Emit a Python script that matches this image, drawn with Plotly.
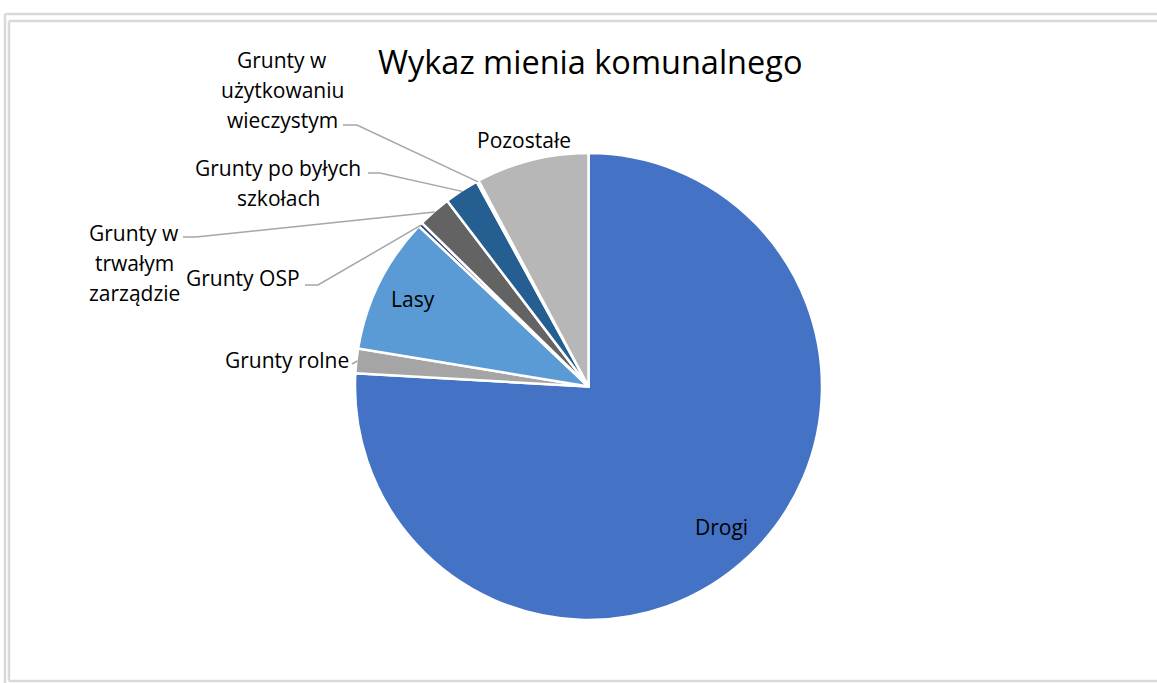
import math
import plotly.graph_objects as go

# ---------------- data ----------------
categories = ["Drogi", "Grunty rolne", "Lasy", "Grunty OSP",
              "Grunty w trwałym zarządzie", "Grunty po byłych szkołach",
              "Grunty w użytkowaniu wieczystym", "Pozostałe"]
values = [75.9, 1.7, 9.45, 0.3, 2.3, 2.4, 0.15, 7.8]
label_lines = [["Drogi"], ["Grunty rolne"], ["Lasy"], ["Grunty OSP"],
               ["Grunty w", "trwałym", "zarządzie"],
               ["Grunty po byłych", "szkołach"],
               ["Grunty w", "użytkowaniu", "wieczystym"],
               ["Pozostałe"]]
colors = ["#4472C4", "#A5A5A5", "#5B9BD5", "#264478",
          "#636363", "#255E91", "#7F9FCF", "#B7B7B7"]

# ---------------- layout geometry (pixels) ----------------
W, H = 1157, 683
CX, CY, R = 588.5, 386.5, 233.5

# label placement: (kind, x, y, anchor) ; kind "in" => fraction of radius along bisector
label_pos = [
    ("in", 0.83, None, "center"),
    ("out", 287, 360, "center"),
    ("in", 0.84, None, "center"),
    ("out", 243, 278, "center"),
    ("out", 134, 233, "center"),
    ("out", 278, 168, "center"),
    ("out", 282, 60, "center"),
    ("out", 524, 140, "center"),
]
# leader: start point (px) + horizontal run end, or None
leaders = [
    None,
    [(352, 364)],
    None,
    [(305, 285), (318, 285)],
    [(183, 237), (196, 237)],
    [(368, 173), (380, 173)],
    [(343, 125), (357, 125)],
    None,
]
LINE_SP = 30.0


def px(x):
    return x / W


def py(y):
    return 1 - y / H


total = sum(values)
angles = []
acc = 0.0
for v in values:
    a0 = acc / total * 360
    acc += v
    a1 = acc / total * 360
    angles.append((a0 + a1) / 2)


def polar(angle_deg, r):
    t = math.radians(angle_deg)
    return CX + r * math.sin(t), CY - r * math.cos(t)


fig = go.Figure(go.Pie(
    labels=categories, values=values, sort=False, direction="clockwise",
    rotation=0, textinfo="none", hoverinfo="label+value",
    marker=dict(colors=colors, line=dict(color="white", width=2.5)),
    domain=dict(x=[px(CX - R), px(CX + R)], y=[py(CY + R), py(CY - R)]),
    showlegend=False,
))

annotations = []
shapes = []
font = dict(family="Open Sans, Noto Sans, sans-serif", size=21, color="#000000")

for i, lines in enumerate(label_lines):
    kind, a, b, anchor = label_pos[i]
    if kind == "in":
        x, y = polar(angles[i], a * R)
    else:
        x, y = a, b
    for k, line in enumerate(lines):
        yy = y + k * LINE_SP
        annotations.append(dict(x=px(x), y=py(yy), xref="paper", yref="paper",
                                text=line, showarrow=False, xanchor=anchor,
                                yanchor="middle", font=font))
    if leaders[i]:
        pts = list(leaders[i]) + [polar(angles[i], R - 1)]
        path = "M " + " L ".join(f"{px(p[0])},{py(p[1])}" for p in pts)
        shapes.append(dict(type="path", path=path, xref="paper", yref="paper",
                           line=dict(color="#A6A6A6", width=1.5)))

# title
annotations.append(dict(x=px(590), y=py(62), xref="paper", yref="paper",
                        text="Wykaz mienia komunalnego", showarrow=False,
                        xanchor="center", yanchor="middle",
                        font=dict(family="Open Sans, Noto Sans, sans-serif",
                                  size=32.5, color="#000000")))

# frame lines
frame_col = "#D9D9D9"
for (x0, y0, x1, y1) in [(5, 14, 1160, 14), (5, 14, 5, 690),
                         (9, 21, 1160, 21), (9, 21, 9, 681),
                         (9, 681, 1160, 681)]:
    shapes.append(dict(type="line", xref="paper", yref="paper",
                       x0=px(x0), y0=py(y0), x1=px(x1), y1=py(y1),
                       line=dict(color=frame_col, width=2.5)))

fig.update_layout(width=W, height=H, margin=dict(l=0, r=0, t=0, b=0),
                  paper_bgcolor="white", plot_bgcolor="white",
                  annotations=annotations, shapes=shapes)

fig.write_html("out.html", config={"displayModeBar": False},
               post_script="document.body.style.margin='0';document.body.style.overflow='hidden';")
